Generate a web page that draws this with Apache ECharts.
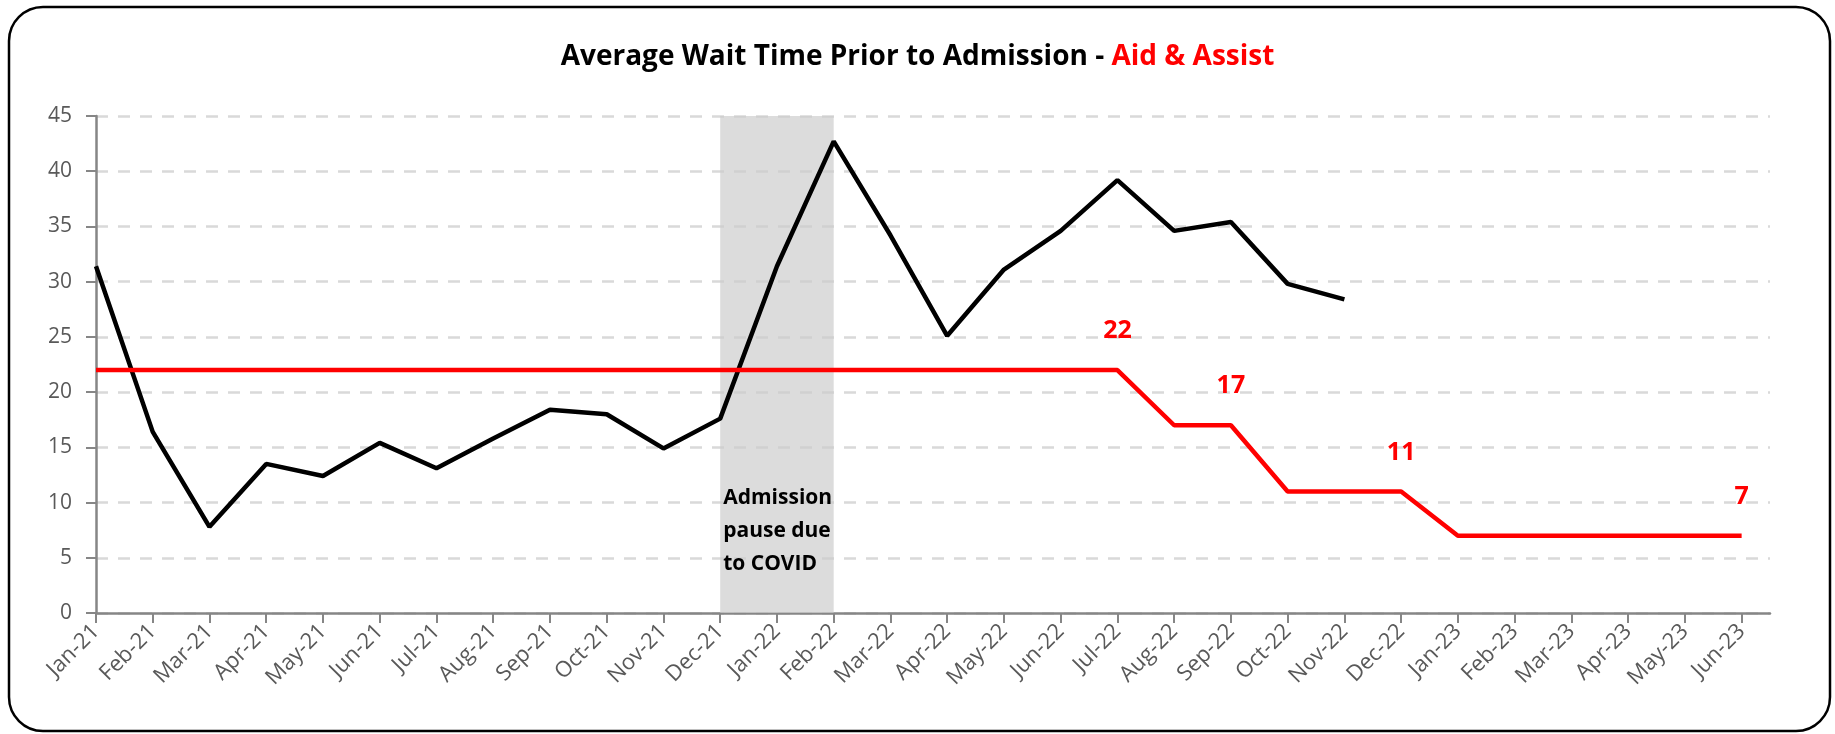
<!DOCTYPE html>
<html>
<head>
<meta charset="utf-8">
<script src="https://cdn.jsdelivr.net/npm/echarts@6/dist/echarts.min.js"></script>
<style>
html,body{margin:0;padding:0;background:#fff;}
#chart{width:1835px;height:734px;}
</style>
</head>
<body>
<div id="chart"></div>
<script>
const months = ['Jan-21','Feb-21','Mar-21','Apr-21','May-21','Jun-21','Jul-21','Aug-21','Sep-21','Oct-21','Nov-21','Dec-21',
  'Jan-22','Feb-22','Mar-22','Apr-22','May-22','Jun-22','Jul-22','Aug-22','Sep-22','Oct-22','Nov-22','Dec-22',
  'Jan-23','Feb-23','Mar-23','Apr-23','May-23','Jun-23'];
const waitTime = [31.4,16.4,7.8,13.5,12.4,15.4,13.1,15.8,18.4,18.0,14.9,17.6,
  31.4,42.7,34.2,25.1,31.1,34.6,39.2,34.6,35.4,29.8,28.4,null,
  null,null,null,null,null,null];
const target = [22,22,22,22,22,22,22,22,22,22,22,22,
  22,22,22,22,22,22,22,17,17,11,11,11,
  7,7,7,7,7,7];
const labelledTargets = ['Jul-22','Sep-22','Dec-22','Jun-23'];
const pauseStart = 'Dec-21';
const pauseEnd = 'Feb-22';
const pauseText = 'Admission\npause due\nto COVID';
const yTicks = [0,5,10,15,20,25,30,35,40,45];

const FONT = 'Open Sans';
const idx = months.map((m,i)=>i);
const waitData = waitTime.map((v,i)=>[i, v]);
const targetData = target.map((v,i)=>({
  value:[i, v],
  label:{show: labelledTargets.includes(months[i])}
}));

const chart = echarts.init(document.getElementById('chart'));
chart.setOption({
  animation:false,
  backgroundColor:'#fff',
  textStyle:{fontFamily:FONT},
  title:{
    text:'{a|Average Wait Time Prior to Admission - }{b|Aid & Assist}',
    left:'center', top:38,
    textStyle:{
      rich:{
        a:{fontFamily:FONT,fontWeight:'bold',fontSize:28,color:'#000'},
        b:{fontFamily:FONT,fontWeight:'bold',fontSize:28,color:'#ff0000'}
      }
    }
  },
  graphic:[{
    type:'rect', z:100, silent:true,
    shape:{x:9,y:7,width:1821,height:724,r:34},
    style:{fill:'none',stroke:'#000',lineWidth:2.5}
  }],
  grid:{left:96,right:65,top:116,bottom:121,containLabel:false},
  xAxis:{
    type:'value', min:0, max:29.5,
    axisLine:{show:true,lineStyle:{color:'#868686',width:2.5}},
    axisTick:{show:true,length:10,customValues:idx,lineStyle:{color:'#868686',width:2}},
    axisLabel:{
      customValues:idx,
      formatter:(v)=>months[Math.round(v)] || '',
      rotate:45, margin:15, fontSize:22, color:'#595959', fontFamily:FONT
    },
    splitLine:{show:false}
  },
  yAxis:{
    type:'value', min:0, max:45, interval:5,
    axisLine:{show:true,lineStyle:{color:'#868686',width:2.5}},
    axisTick:{show:true,length:10,lineStyle:{color:'#868686',width:2}},
    axisLabel:{fontSize:21,color:'#595959',margin:24,fontFamily:FONT,
      formatter:(v)=> yTicks.includes(v) ? String(v) : ''},
    splitLine:{show:true,lineStyle:{color:'#d9d9d9',width:2.5,type:[12,10]}}
  },
  series:[
    {
      name:'Average Wait Time',
      type:'line', data:waitData, showSymbol:false, symbol:'none',
      lineStyle:{color:'#000',width:4.5}, z:3,
      markArea:{
        silent:true,
        itemStyle:{color:'rgba(204,204,204,0.68)'},
        label:{
          show:true, position:'insideBottomLeft', distance:0, offset:[3,-32],
          formatter:pauseText, fontFamily:FONT, fontWeight:'bold', fontSize:21,
          lineHeight:33, color:'#000', align:'left'
        },
        data:[[{xAxis:months.indexOf(pauseStart)},{xAxis:months.indexOf(pauseEnd)}]]
      }
    },
    {
      name:'Target',
      type:'line', data:targetData, showSymbol:true, symbol:'circle', symbolSize:1,
      itemStyle:{color:'rgba(255,0,0,0)'},
      lineStyle:{color:'#ff0000',width:4.5}, z:4,
      label:{show:false, position:'top', distance:26, fontFamily:FONT, fontWeight:'bold',
        fontSize:25, color:'#ff0000', formatter:(p)=>String(p.value[1])},
      labelLayout:{hideOverlap:false}
    }
  ]
});
</script>
</body>
</html>
